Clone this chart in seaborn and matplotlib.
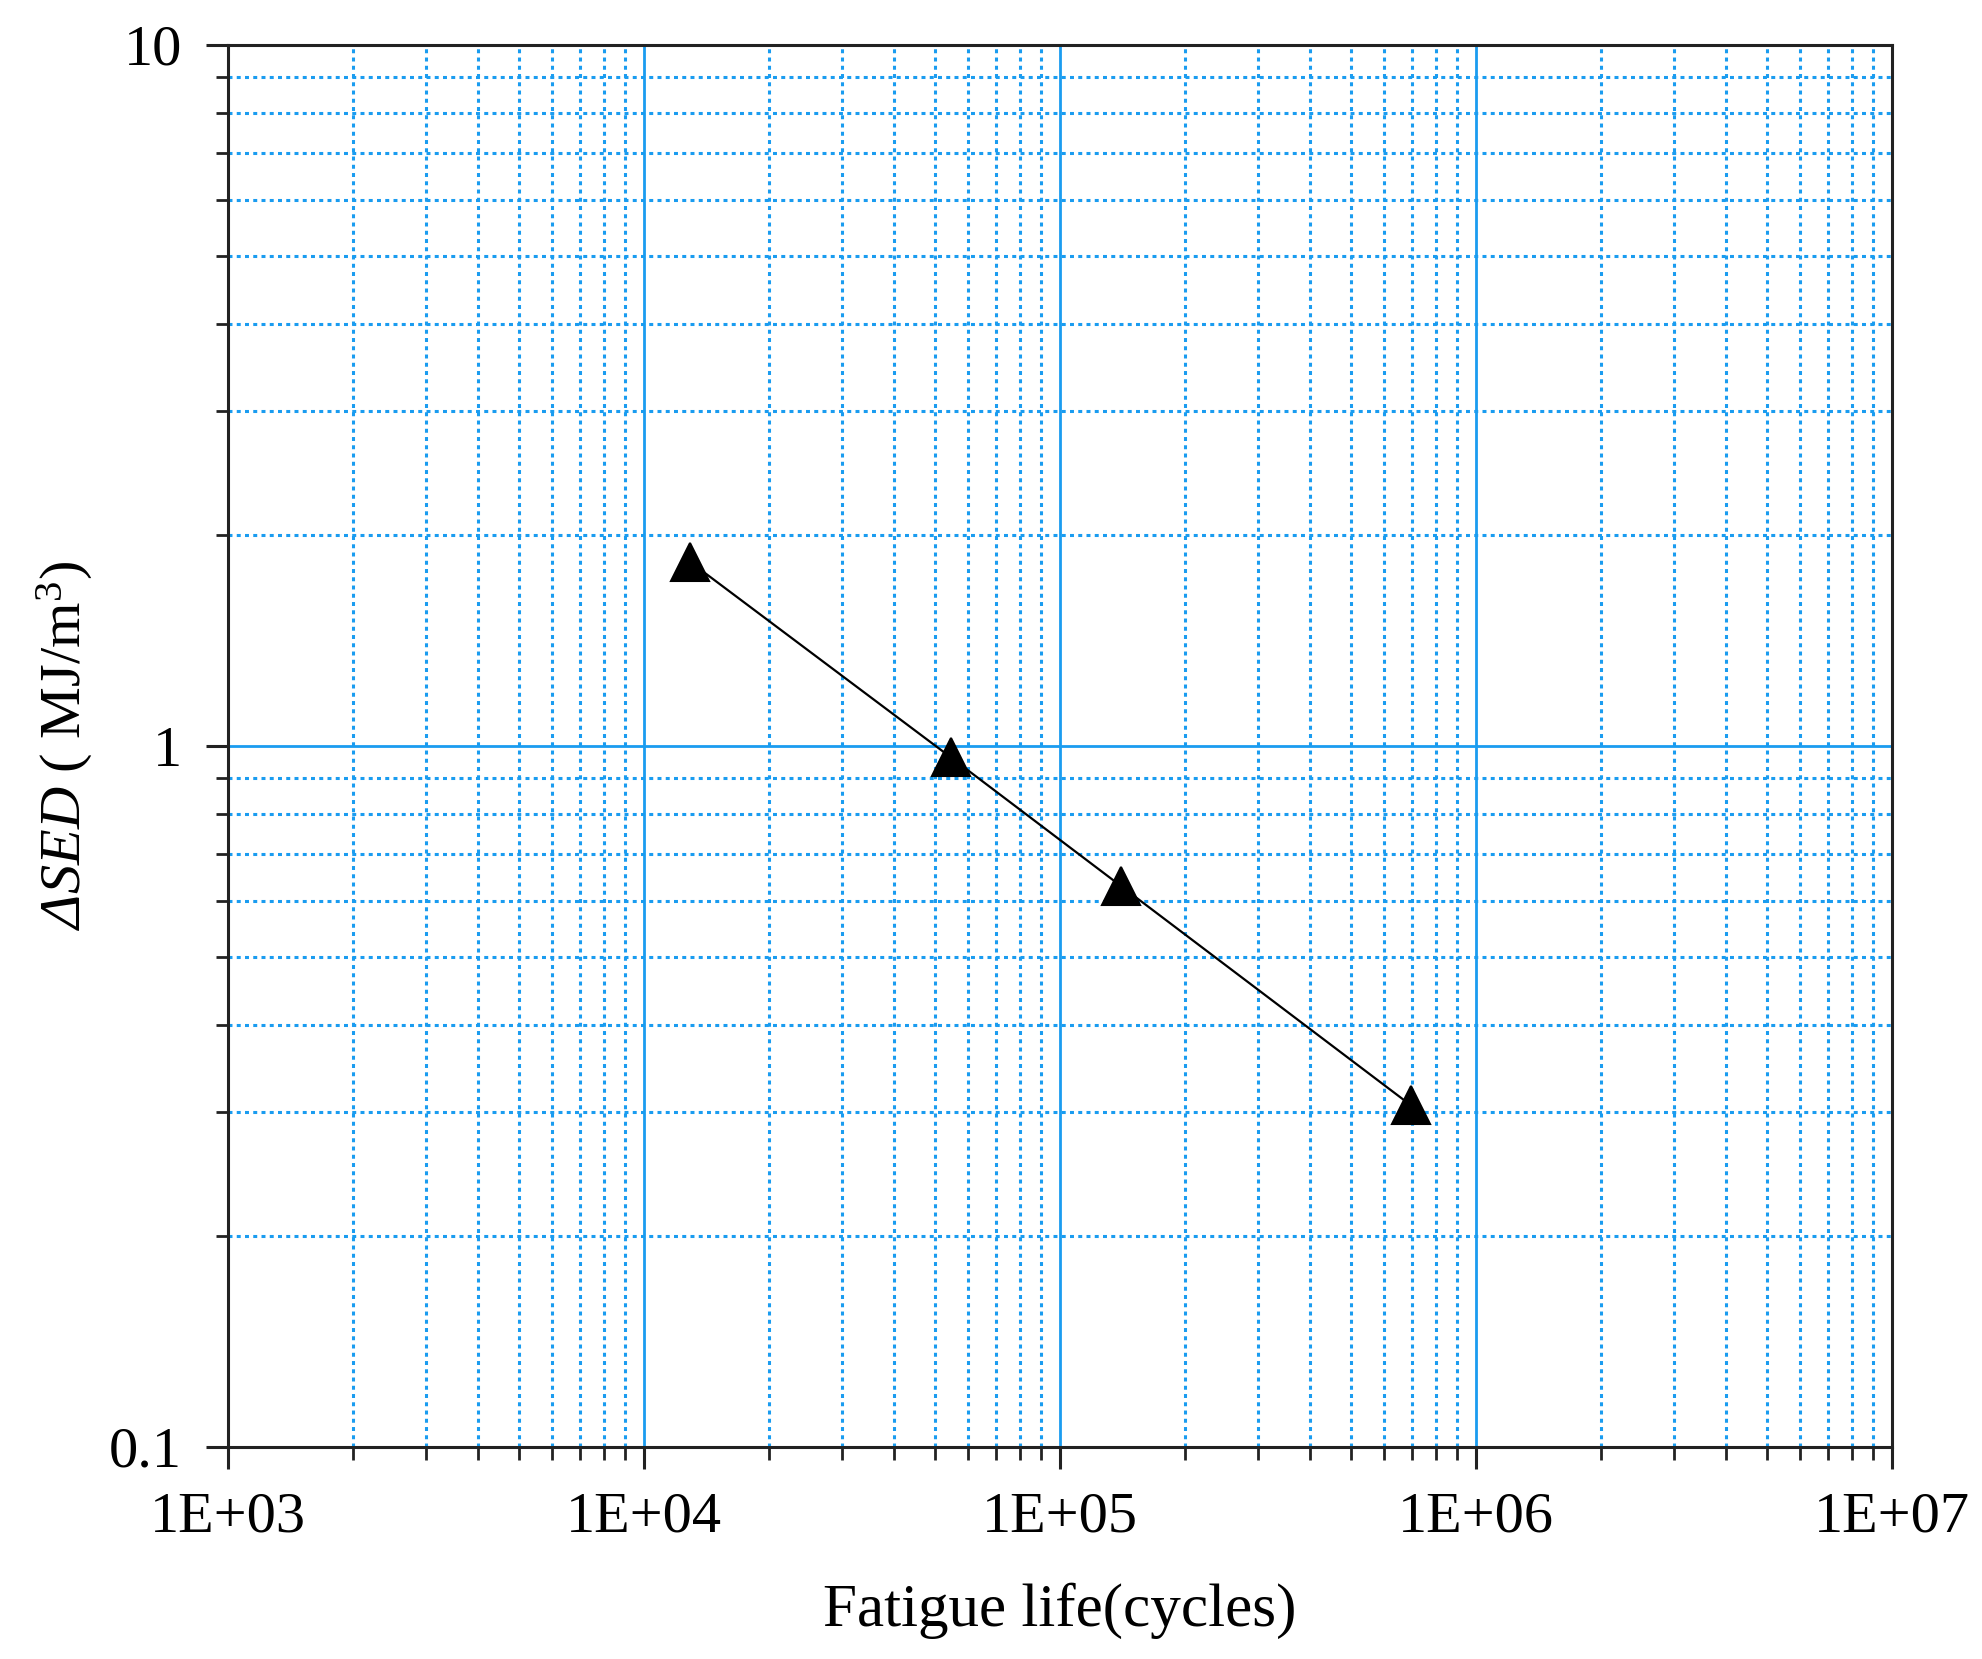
import numpy as np
import pandas as pd
import seaborn as sns
import matplotlib
matplotlib.use("Agg")
import matplotlib.pyplot as plt
from matplotlib.ticker import LogLocator, FixedLocator, FixedFormatter, NullFormatter

# data
cycles = [12900, 54600, 140000, 697000]
sed = [1.83, 0.963, 0.631, 0.307]

xtick_vals = [1e3, 1e4, 1e5, 1e6, 1e7]
xtick_labels = ["1E+03", "1E+04", "1E+05", "1E+06", "1E+07"]
ytick_vals = [0.1, 1, 10]
ytick_labels = ["0.1", "1", "10"]

df = pd.DataFrame({"cycles": cycles, "sed": sed})

sns.set_style("white")
plt.rcParams["font.family"] = ["Liberation Serif", "DejaVu Serif"]
plt.rcParams["mathtext.fontset"] = "custom"
plt.rcParams["mathtext.rm"] = "Liberation Serif"
plt.rcParams["mathtext.it"] = "Liberation Serif:italic"
# sf slot used to get an italic capital Delta
plt.rcParams["mathtext.sf"] = "Liberation Serif:italic"

grid_blue = "#1a9cf0"

fig = plt.figure(figsize=(9.91, 8.295), dpi=200)
ax = fig.add_axes([0.115, 0.128, 0.8396, 0.845])

sns.lineplot(data=df, x="cycles", y="sed", ax=ax, color="black", lw=0.8,
             marker="^", markersize=13.5, markeredgecolor="black",
             markerfacecolor="black", zorder=5)

ax.set_xscale("log")
ax.set_yscale("log")
ax.set_xlim(1e3, 1e7)
ax.set_ylim(0.1, 10)

ax.xaxis.set_major_locator(FixedLocator(xtick_vals))
ax.xaxis.set_major_formatter(FixedFormatter(xtick_labels))
ax.yaxis.set_major_locator(FixedLocator(ytick_vals))
ax.yaxis.set_major_formatter(FixedFormatter(ytick_labels))
ax.xaxis.set_minor_locator(LogLocator(base=10, subs=np.arange(2, 10), numticks=20))
ax.yaxis.set_minor_locator(LogLocator(base=10, subs=np.arange(2, 10), numticks=20))
ax.xaxis.set_minor_formatter(NullFormatter())
ax.yaxis.set_minor_formatter(NullFormatter())

ax.grid(which="major", color=grid_blue, lw=1.0, ls="-")
ax.grid(which="minor", color=grid_blue, lw=1.1, ls=(0, (1.3, 1.4)))
ax.set_axisbelow(True)

for s in ax.spines.values():
    s.set_color("#222222")
    s.set_linewidth(1.1)

ax.tick_params(which="both", bottom=True, left=True, top=False, right=False)
ax.tick_params(which="major", direction="out", length=8, width=1.1,
               colors="#222222", labelsize=21)
ax.tick_params(which="minor", direction="out", length=4.5, width=1.0,
               colors="#222222")
ax.tick_params(axis="x", which="major", pad=8)
ax.tick_params(axis="y", which="major", pad=8.5)
ax.tick_params(axis="both", labelcolor="black")

ax.set_xlabel("Fatigue life(cycles)", fontsize=22, color="black")
ax.xaxis.set_label_coords(0.5, -0.097)
ax.set_ylabel(r"$\mathsf{\Delta SED}$" + " ( MJ/m$^3$)", fontsize=21, color="black")
ax.yaxis.set_label_coords(-0.08, 0.5)

fig.savefig("out.png", dpi=200, facecolor="white")
